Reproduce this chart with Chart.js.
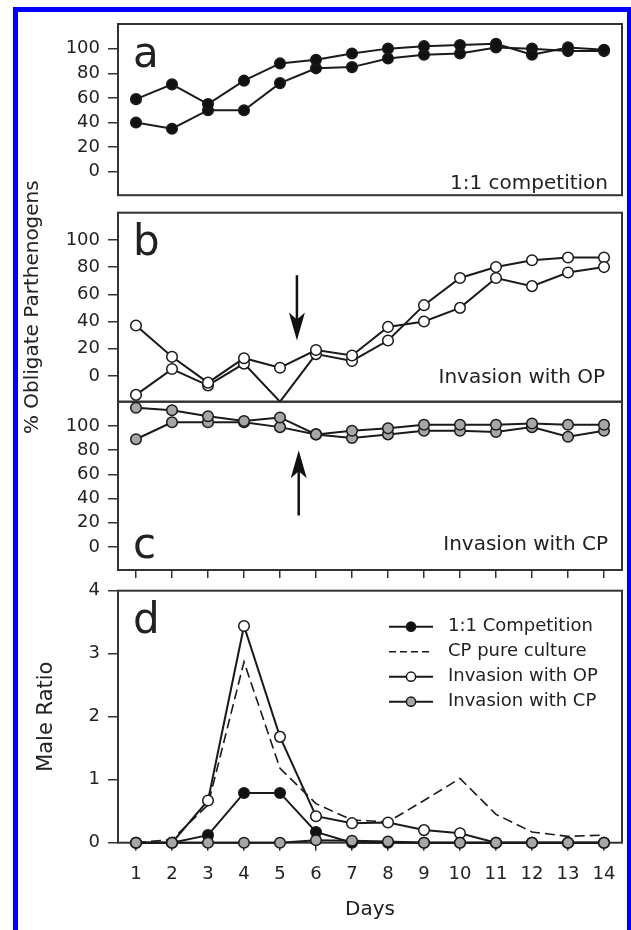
<!DOCTYPE html>
<html>
<head>
<meta charset="utf-8">
<script src="https://cdn.jsdelivr.net/npm/chart.js@4/dist/chart.umd.min.js"></script>
<style>
  body { margin: 0; background: #fff; }
  #page { position: relative; width: 631px; height: 930px; overflow: hidden; background: #fff; }
  #blue { position: absolute; left: 13px; top: 7px; width: 619px; height: 1000px; border: 5px solid #0000ff; box-sizing: border-box; }
  canvas { position: absolute; left: 0; }
</style>
</head>
<body>
<div id="page">
  <div id="blue"></div>
  <canvas id="chartA" width="631" height="214" style="top:0px"></canvas>
  <canvas id="chartB" width="631" height="320" style="top:140px"></canvas>
  <canvas id="chartC" width="631" height="210" style="top:380px"></canvas>
  <canvas id="chartD" width="631" height="370" style="top:560px"></canvas>
</div>
<script>
const days = ['1', '2', '3', '4', '5', '6', '7', '8', '9', '10', '11', '12', '13', '14'];
const pctTicks = [0, 20, 40, 60, 80, 100];
const ratioTicks = [0, 1, 2, 3, 4];

// a: 1:1 competition (two replicates)
const compRep1 = [59, 71, 55, 74, 88, 91, 96, 100, 102, 103, 104, 95, 101, 99];
const compRep2 = [40, 35, 50, 50, 72, 84, 85, 92, 95, 96, 101, 100, 98, 98];
// b: invasion with OP (rep2 day 5 runs off the bottom of the axis)
const opRep1 = [37, 14, -5, 13, 6, 19, 15, 36, 40, 50, 72, 66, 76, 80];
const opRep2 = [-14, 5, -7, 9, -19, 16, 11, 26, 52, 72, 80, 85, 87, 87];
// c: invasion with CP
const cpRep1 = [115, 113, 108, 104, 107, 93, 96, 98, 101, 101, 101, 102, 101, 101];
const cpRep2 = [89, 103, 103, 103, 99, 93, 90, 93, 96, 96, 95, 99, 91, 96];
// d: male ratio
const maleComp = [0, 0, 0.12, 0.79, 0.79, 0.17, 0, 0, 0, 0, 0, 0, 0, 0];
const maleCpPure = [0, 0.05, 0.6, 2.87, 1.18, 0.62, 0.36, 0.33, 0.67, 1.02, 0.45, 0.17, 0.1, 0.12];
const maleOp = [0, 0, 0.67, 3.44, 1.68, 0.42, 0.31, 0.32, 0.2, 0.15, 0, 0, 0, 0];
const maleCp = [0, 0, 0, 0, 0, 0.04, 0.03, 0.02, 0, 0, 0, 0, 0, 0];

const PCT_MIN = -19, PCT_MAX = 120;
const FONT = '"DejaVu Sans", sans-serif';
const INK = '#222';
const AXIS = '#333';
const GRAY = '#a6a6a6';
const R = 5.3;

function series(data, fill, extra) {
  return Object.assign({
    data: data,
    borderColor: '#1a1a1a',
    borderWidth: 2,
    pointRadius: R,
    pointBackgroundColor: fill,
    pointBorderColor: '#1a1a1a',
    pointBorderWidth: 1.5,
    tension: 0,
    clip: false
  }, extra || {});
}

function yAxis(ticks, min, max, title) {
  return {
    min: min, max: max,
    afterBuildTicks: s => { s.ticks = ticks.map(v => ({ value: v })); },
    afterFit: s => { s.width = 118; },
    grid: { drawOnChartArea: false, drawTicks: true, tickLength: 10, color: AXIS, lineWidth: 1.5 },
    border: { display: false },
    ticks: { color: INK, font: { family: FONT, size: 18 }, padding: 8 },
    title: title || { display: false }
  };
}

function xAxis(show, labels, height, title) {
  return {
    type: 'category', offset: true, display: show,
    afterFit: s => { s.height = height; },
    grid: { drawOnChartArea: false, drawTicks: true, tickLength: 8, color: AXIS, lineWidth: 1.5, offset: false },
    border: { display: false },
    ticks: { display: labels, color: INK, font: { family: FONT, size: 18 }, padding: 13, maxRotation: 0, autoSkip: false },
    title: title || { display: false }
  };
}

function drawArrow(ctx, x, yTail, yTip) {
  const dir = yTip > yTail ? 1 : -1;
  ctx.strokeStyle = '#111';
  ctx.fillStyle = '#111';
  ctx.lineWidth = 2.5;
  ctx.beginPath();
  ctx.moveTo(x, yTail);
  ctx.lineTo(x, yTip - dir * 18);
  ctx.stroke();
  ctx.beginPath();
  ctx.moveTo(x, yTip);
  ctx.lineTo(x - 8, yTip - dir * 28);
  ctx.lineTo(x, yTip - dir * 21);
  ctx.lineTo(x + 8, yTip - dir * 28);
  ctx.closePath();
  ctx.fill();
}

const panelDeco = {
  id: 'panelDeco',
  beforeDatasetsDraw(chart, args, o) {
    const { ctx, chartArea: a, scales } = chart;
    ctx.save();
    ctx.strokeStyle = AXIS;
    ctx.lineWidth = 2;
    ctx.strokeRect(a.left, a.top, a.right - a.left, a.bottom - a.top);
    ctx.fillStyle = INK;
    ctx.textAlign = 'left';
    ctx.textBaseline = 'alphabetic';
    ctx.font = '42px ' + FONT;
    ctx.fillText(o.letter, a.left + 15, a.top + o.letterY);
    if (o.note) {
      ctx.font = '20px ' + FONT;
      ctx.textAlign = 'right';
      ctx.fillText(o.note, a.right - o.noteRight, a.top + o.noteY);
    }
    if (o.arrow) {
      const x = scales.x.getPixelForValue(o.arrow.at);
      drawArrow(ctx, x, scales.y.getPixelForValue(o.arrow.from), scales.y.getPixelForValue(o.arrow.to));
    }
    if (o.legend) {
      const x0 = a.right - 233, x1 = a.right - 189, xt = a.right - 174;
      chart.data.datasets.forEach((ds, i) => {
        const y = a.top + 36 + i * 25;
        ctx.strokeStyle = ds.borderColor;
        ctx.lineWidth = ds.borderWidth;
        ctx.setLineDash(ds.borderDash ? [7, 4] : []);
        ctx.beginPath();
        ctx.moveTo(x0, y);
        ctx.lineTo(x1, y);
        ctx.stroke();
        ctx.setLineDash([]);
        if (ds.pointRadius > 0) {
          ctx.beginPath();
          ctx.arc((x0 + x1) / 2, y, 4.6, 0, Math.PI * 2);
          ctx.fillStyle = ds.pointBackgroundColor;
          ctx.fill();
          ctx.lineWidth = 1.5;
          ctx.strokeStyle = ds.pointBorderColor;
          ctx.stroke();
        }
        ctx.fillStyle = INK;
        ctx.font = '18px ' + FONT;
        ctx.textAlign = 'left';
        ctx.textBaseline = 'middle';
        ctx.fillText(ds.label, xt, y);
      });
    }
    ctx.restore();
  }
};

function makePanel(id, datasets, yOpts, xOpts, pad, deco) {
  return new Chart(document.getElementById(id), {
    type: 'line',
    data: { labels: days, datasets: datasets },
    options: {
      responsive: false,
      animation: false,
      devicePixelRatio: 1,
      events: [],
      layout: { padding: { top: pad.top, bottom: pad.bottom, left: 0, right: 9 } },
      plugins: { legend: { display: false }, tooltip: { enabled: false }, panelDeco: deco },
      scales: { x: xOpts, y: yOpts }
    },
    plugins: [panelDeco]
  });
}

makePanel('chartA',
  [series(compRep1, '#111'), series(compRep2, '#111')],
  yAxis(pctTicks, PCT_MIN, PCT_MAX),
  xAxis(false, false, 0),
  { top: 24, bottom: 2.3 },
  { letter: 'a', letterY: 43, note: '1:1 competition', noteRight: 14, noteY: 164.5 });

makePanel('chartB',
  [series(opRep1, '#fff'),
   series(opRep2, '#fff', { pointRadius: opRep2.map(v => v <= PCT_MIN ? 0 : R) })],
  yAxis(pctTicks, PCT_MIN, PCT_MAX, {
    display: true, text: '% Obligate Parthenogens', color: INK,
    font: { family: FONT, size: 20 }, padding: { top: 21, bottom: 0 }
  }),
  xAxis(false, false, 0),
  { top: 72.7, bottom: 58.3 },
  { letter: 'b', letterY: 42.3, note: 'Invasion with OP', noteRight: 17, noteY: 170,
    arrow: { at: 4.47, from: 74, to: 26 } });

makePanel('chartC',
  [series(cpRep1, GRAY), series(cpRep2, GRAY)],
  yAxis(pctTicks, PCT_MIN, PCT_MAX),
  xAxis(true, false, 20),
  { top: 21.7, bottom: 0 },
  { letter: 'c', letterY: 156.3, note: 'Invasion with CP', noteRight: 14, noteY: 148.5,
    arrow: { at: 4.52, from: 26, to: 80 } });

makePanel('chartD',
  [series(maleComp, '#111', { label: '1:1 Competition', order: 2 }),
   series(maleCpPure, '#fff', { label: 'CP pure culture', order: 4, pointRadius: 0, borderWidth: 1.6, borderDash: [10, 5] }),
   series(maleOp, '#fff', { label: 'Invasion with OP', order: 3 }),
   series(maleCp, GRAY, { label: 'Invasion with CP', order: 1 })],
  yAxis(ratioTicks, 0, 4, {
    display: true, text: 'Male Ratio', color: INK,
    font: { family: FONT, size: 21 }, padding: { top: 34, bottom: 0 }
  }),
  xAxis(true, true, 87.3, {
    display: true, text: 'Days', color: INK,
    font: { family: FONT, size: 20 }, padding: { top: 0, bottom: 8 }
  }),
  { top: 30.7, bottom: 0 },
  { letter: 'd', letterY: 42.3, legend: true });
</script>
</body>
</html>
